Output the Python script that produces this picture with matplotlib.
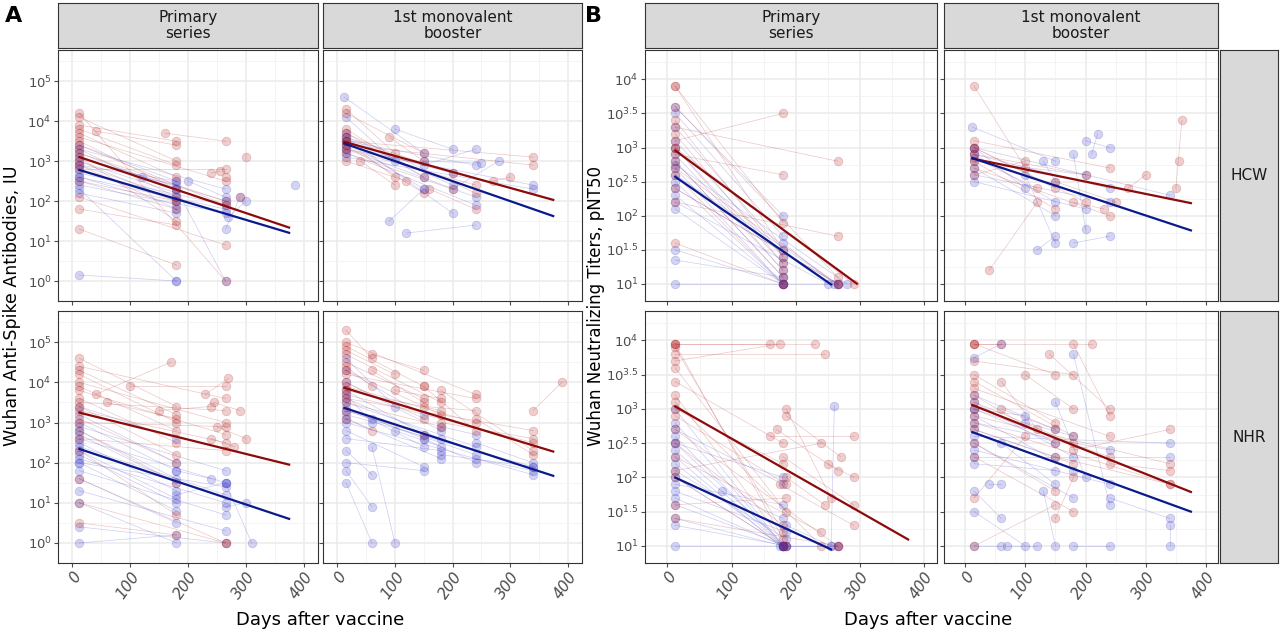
#!/usr/bin/env python3

# Antibody and neutralizing titer decay, faceted by cohort and vaccine dose.
import matplotlib
matplotlib.use('Agg')
import matplotlib.pyplot as plt

RED, BLUE = '#8b0a0a', '#0a1a8b'
PT_RED, PT_BLUE = '#b22222', '#3a3ac8'

COLUMNS = ['Primary\nseries', '1st monovalent\nbooster']
ROWS = ['HCW', 'NHR']

# Each subject is a list of (day, log10 value); red and blue groups per panel
A_HCW_PRI_RED = [
    [(12, 4.1), (180, 3.0)], [(12, 3.8), (180, 2.9)], [(12, 3.7), (180, 2.6)], [(12, 3.5), (180, 2.3)],
    [(12, 3.3), (180, 2.1)], [(12, 3.0), (180, 2.0)], [(12, 2.9), (180, 1.8)], [(12, 3.6), (265, 2.5)],
    [(12, 3.2), (265, 2.0)], [(12, 1.3), (180, 0.4)], [(12, 1.8), (180, 1.4)], [(12, 3.4), (265, 1.9)],
    [(12, 2.5), (180, 2.0)], [(12, 3.9), (180, 3.5)], [(12, 2.8), (265, 2.8)], [(12, 3.1), (180, 1.5)],
    [(12, 2.1), (265, 0.9)], [(40, 3.75), (180, 3.4)], [(160, 3.7), (265, 3.5)], [(300, 3.1)], [(290, 2.1)],
    [(240, 2.7), (255, 2.75)], [(265, 2.6)], [(12, 4.2), (265, 0.0)],
]
A_HCW_PRI_BLUE = [
    [(12, 3.4), (180, 2.5)], [(12, 3.2), (180, 2.3)], [(12, 3.0), (180, 2.2)], [(12, 2.9), (180, 2.1)],
    [(12, 2.8), (180, 2.0)], [(12, 2.6), (180, 1.9)], [(12, 2.5), (180, 1.8)], [(12, 2.6), (265, 1.8)],
    [(12, 3.1), (265, 2.0)], [(12, 2.2), (180, 1.7)], [(12, 2.4), (265, 1.7)], [(12, 3.3), (265, 2.3)],
    [(12, 2.3), (180, 0.0)], [(12, 0.15), (180, 0.0)], [(12, 2.7), (265, 1.9)], [(12, 2.9), (180, 2.5)],
    [(120, 2.6), (180, 2.4)], [(200, 2.5), (265, 2.1)], [(180, 2.3), (265, 0.0)], [(385, 2.4)],
    [(265, 1.3), (290, 2.1)], [(270, 1.6), (300, 2.0)],
]
A_HCW_BOO_RED = [
    [(15, 4.3), (100, 3.2)], [(15, 4.2), (150, 3.2)], [(15, 3.8), (150, 2.6)], [(15, 3.5), (100, 2.6)],
    [(15, 3.6), (200, 2.7)], [(15, 3.3), (240, 2.4)], [(15, 3.4), (150, 2.2)], [(15, 3.2), (200, 2.3)],
    [(15, 3.7), (240, 2.2)], [(15, 3.0), (120, 2.5)], [(15, 3.5), (340, 3.1)], [(15, 3.4), (340, 2.9)],
    [(40, 3.0), (100, 2.4)], [(90, 3.6), (150, 3.0)], [(160, 2.3), (240, 1.8)], [(270, 2.5), (300, 2.6)],
]
A_HCW_BOO_BLUE = [
    [(12, 4.6), (150, 3.2)], [(15, 4.1), (100, 3.0)], [(15, 3.7), (150, 2.6)], [(15, 3.6), (200, 2.4)],
    [(15, 3.5), (150, 2.3)], [(15, 3.3), (240, 2.1)], [(15, 3.4), (200, 2.7)], [(15, 3.2), (240, 1.9)],
    [(15, 3.3), (340, 2.4)], [(15, 3.1), (340, 2.3)], [(15, 3.6), (200, 1.7)], [(15, 3.5), (240, 2.9)],
    [(100, 3.8), (200, 3.3)], [(150, 3.0), (250, 2.95)], [(90, 1.5), (150, 2.3)], [(120, 1.2), (240, 1.4)],
    [(150, 2.9), (240, 3.3)], [(200, 2.3), (280, 3.0)],
]
A_NHR_PRI_RED = [
    [(12, 4.6), (180, 3.4)], [(12, 4.3), (180, 3.2)], [(12, 4.2), (180, 3.0)], [(12, 4.0), (265, 3.0)],
    [(12, 3.9), (180, 2.8)], [(12, 3.8), (265, 2.7)], [(12, 3.6), (180, 2.5)], [(12, 3.5), (265, 3.3)],
    [(12, 3.4), (180, 2.2)], [(12, 3.3), (265, 2.5)], [(12, 3.1), (180, 2.0)], [(12, 3.0), (265, 2.9)],
    [(12, 2.8), (180, 1.5)], [(12, 2.6), (265, 2.3)], [(12, 2.3), (180, 0.7)], [(12, 1.6), (265, 0.0)],
    [(12, 0.5), (180, 0.2)], [(12, 4.4), (265, 3.6)], [(40, 3.7), (170, 4.5)], [(60, 3.5), (180, 3.1)],
    [(100, 3.9), (265, 3.9)], [(150, 3.3), (240, 3.4)], [(245, 3.5), (290, 3.3)], [(250, 2.9), (300, 2.6)],
    [(230, 3.7), (270, 4.1)], [(240, 2.6), (280, 2.4)], [(12, 1.0), (265, 0.0)],
]
A_NHR_PRI_BLUE = [
    [(12, 3.2), (180, 2.0)], [(12, 3.0), (180, 1.8)], [(12, 2.8), (180, 1.6)], [(12, 2.7), (180, 1.5)],
    [(12, 2.6), (265, 1.5)], [(12, 2.5), (180, 1.3)], [(12, 2.4), (265, 1.2)], [(12, 2.3), (180, 1.1)],
    [(12, 2.2), (180, 1.0)], [(12, 2.1), (265, 1.0)], [(12, 2.0), (180, 0.8)], [(12, 1.8), (265, 0.7)],
    [(12, 1.6), (180, 0.5)], [(12, 1.3), (265, 0.3)], [(12, 1.0), (180, 0.0)], [(12, 0.4), (265, 0.0)],
    [(12, 0.0), (180, 0.2)], [(12, 2.9), (265, 1.8)], [(12, 3.4), (180, 2.6)], [(12, 2.0), (265, 1.4)],
    [(180, 1.2), (265, 1.5)], [(265, 0.9), (300, 1.0)], [(265, 1.5), (310, 0.0)], [(180, 1.8), (240, 1.6)],
]
A_NHR_BOO_RED = [
    [(15, 5.3), (60, 4.6)], [(15, 4.9), (150, 3.9)], [(15, 4.7), (180, 3.5)], [(15, 4.5), (150, 3.6)],
    [(15, 4.3), (180, 3.2)], [(15, 4.2), (240, 3.6)], [(15, 4.0), (150, 3.1)], [(15, 3.9), (240, 3.0)],
    [(15, 3.8), (180, 3.3)], [(15, 3.7), (340, 2.5)], [(15, 3.6), (340, 2.8)], [(15, 3.5), (180, 2.9)],
    [(15, 4.4), (60, 3.9)], [(15, 4.8), (100, 4.2)], [(15, 3.3), (150, 2.7)], [(15, 5.0), (240, 3.7)],
    [(60, 4.3), (150, 3.5)], [(100, 3.8), (180, 3.6)], [(150, 3.4), (240, 3.3)], [(180, 3.0), (340, 2.6)],
    [(240, 3.1), (340, 2.2)], [(340, 3.3), (390, 4.0)], [(60, 4.7), (150, 4.3)], [(15, 3.1), (60, 2.8)],
    [(150, 3.9), (240, 2.8)], [(180, 3.8), (340, 2.3)],
]
A_NHR_BOO_BLUE = [
    [(15, 4.3), (150, 3.2)], [(15, 4.0), (180, 2.8)], [(15, 3.8), (150, 2.7)], [(15, 3.6), (180, 2.6)],
    [(15, 3.5), (240, 2.4)], [(15, 3.4), (150, 2.4)], [(15, 3.3), (240, 2.2)], [(15, 3.2), (340, 1.9)],
    [(15, 3.1), (180, 2.1)], [(15, 3.0), (340, 1.7)], [(15, 2.8), (150, 1.9)], [(15, 2.6), (180, 2.3)],
    [(15, 2.3), (60, 1.7)], [(15, 1.8), (60, 0.9)], [(15, 1.5), (60, 0.0)], [(15, 4.6), (100, 3.4)],
    [(15, 3.7), (60, 3.0)], [(60, 3.1), (150, 2.6)], [(100, 2.8), (180, 2.4)], [(150, 2.6), (240, 2.0)],
    [(180, 2.2), (340, 1.9)], [(240, 2.5), (340, 2.0)], [(60, 2.4), (100, 0.0)], [(15, 2.0), (150, 1.8)],
    [(180, 2.9), (240, 2.7)], [(240, 2.1), (340, 1.8)],
]

B_HCW_PRI_RED = [
    [(12, 3.9), (180, 1.9)], [(12, 3.9), (180, 1.5)], [(12, 3.4), (180, 1.4)], [(12, 3.2), (180, 1.3)],
    [(12, 3.0), (180, 1.2)], [(12, 2.8), (180, 1.1)], [(12, 3.6), (265, 1.1)], [(12, 2.6), (180, 1.0)],
    [(12, 2.4), (265, 1.0)], [(12, 1.6), (180, 1.0)], [(12, 2.2), (265, 1.7)], [(12, 3.1), (180, 3.5)],
    [(12, 3.3), (265, 2.8)], [(12, 2.9), (180, 2.6)], [(12, 3.0), (290, 1.0)], [(12, 2.7), (265, 1.0)],
]
B_HCW_PRI_BLUE = [
    [(12, 3.5), (180, 1.7)], [(12, 3.3), (180, 1.5)], [(12, 3.1), (180, 1.4)], [(12, 3.0), (180, 1.3)],
    [(12, 2.9), (180, 1.2)], [(12, 2.8), (180, 1.1)], [(12, 2.7), (180, 1.0)], [(12, 2.6), (265, 1.0)],
    [(12, 2.5), (180, 1.0)], [(12, 2.4), (265, 1.0)], [(12, 2.3), (180, 1.0)], [(12, 2.2), (250, 1.0)],
    [(12, 2.1), (180, 1.0)], [(12, 1.5), (180, 1.0)], [(12, 1.0), (265, 1.0)], [(12, 3.6), (180, 2.0)],
    [(12, 1.35), (180, 1.1)], [(180, 1.6), (260, 1.0)], [(12, 2.75), (280, 1.0)],
]
B_HCW_BOO_RED = [
    [(15, 3.9), (100, 2.7)], [(15, 3.0), (150, 2.4)], [(15, 2.9), (200, 2.6)], [(15, 2.8), (150, 2.1)],
    [(15, 2.7), (240, 2.0)], [(15, 3.0), (200, 2.2)], [(15, 2.85), (120, 2.4)], [(15, 3.1), (240, 2.7)],
    [(15, 2.6), (100, 2.8)], [(40, 1.2), (120, 2.2)], [(150, 2.5), (250, 2.2)], [(270, 2.4), (300, 2.6)],
    [(350, 2.4), (360, 3.4)], [(355, 2.8)], [(180, 2.2), (230, 2.1)],
]
B_HCW_BOO_BLUE = [
    [(12, 3.3), (150, 2.8)], [(15, 3.0), (100, 2.4)], [(15, 2.9), (150, 2.2)], [(15, 2.8), (200, 2.6)],
    [(15, 2.7), (150, 2.0)], [(15, 2.6), (240, 2.2)], [(15, 2.5), (200, 2.1)], [(15, 2.9), (240, 2.4)],
    [(15, 3.0), (340, 2.3)], [(100, 2.6), (150, 1.6)], [(120, 1.5), (150, 1.7)], [(180, 1.6), (240, 1.7)],
    [(200, 3.1), (240, 3.0)], [(210, 2.9), (220, 3.2)], [(130, 2.8), (150, 2.5)], [(180, 2.9), (200, 1.8)],
]
B_NHR_PRI_RED = [
    [(12, 3.95), (180, 1.1)], [(12, 3.95), (160, 3.95)], [(12, 3.9), (180, 1.2)], [(12, 3.7), (175, 3.95)],
    [(12, 3.6), (185, 1.5)], [(12, 3.4), (180, 2.5)], [(12, 3.2), (185, 1.0)], [(12, 3.1), (240, 1.0)],
    [(12, 3.0), (180, 2.2)], [(12, 2.9), (185, 1.9)], [(12, 2.7), (265, 1.0)], [(12, 2.5), (180, 1.3)],
    [(12, 2.3), (240, 1.2)], [(12, 2.0), (180, 1.0)], [(12, 1.6), (185, 1.7)], [(12, 1.4), (265, 1.0)],
    [(12, 3.95), (230, 3.95)], [(12, 3.8), (245, 3.8)], [(160, 2.6), (290, 2.6)], [(185, 2.9), (270, 2.3)],
    [(180, 2.3), (290, 1.6)], [(185, 2.0), (245, 1.6)], [(170, 2.7), (265, 2.1)], [(250, 2.2), (290, 2.0)],
    [(175, 1.9), (290, 1.3)], [(185, 3.0), (255, 1.7)], [(12, 2.1), (240, 2.5)],
]
B_NHR_PRI_BLUE = [
    [(12, 3.0), (180, 1.0)], [(12, 2.8), (180, 1.0)], [(12, 2.6), (180, 1.0)], [(12, 2.5), (185, 1.0)],
    [(12, 2.4), (180, 1.0)], [(12, 2.3), (175, 1.0)], [(12, 2.2), (180, 1.0)], [(12, 2.1), (185, 1.1)],
    [(12, 2.0), (180, 1.0)], [(12, 1.9), (180, 1.6)], [(12, 1.8), (185, 1.2)], [(12, 1.7), (180, 1.0)],
    [(12, 1.4), (180, 1.0)], [(12, 1.3), (185, 1.0)], [(12, 1.0), (265, 1.0)], [(12, 2.7), (180, 1.9)],
    [(12, 1.6), (185, 1.0)], [(85, 1.8), (180, 1.4)], [(180, 1.0), (265, 1.0)], [(185, 1.3), (255, 1.0)],
    [(260, 3.05), (255, 1.0)], [(12, 2.5), (180, 2.0)],
]
B_NHR_BOO_RED = [
    [(15, 3.95), (60, 3.95)], [(15, 3.95), (150, 3.5)], [(15, 3.7), (180, 3.5)], [(15, 3.5), (150, 2.8)],
    [(15, 3.4), (180, 2.6)], [(15, 3.3), (240, 2.6)], [(15, 3.2), (150, 2.5)], [(15, 3.1), (180, 2.5)],
    [(15, 3.0), (240, 2.3)], [(15, 2.9), (340, 2.2)], [(15, 2.8), (340, 1.9)], [(15, 2.7), (180, 2.2)],
    [(15, 2.5), (150, 1.8)], [(15, 2.3), (180, 1.5)], [(15, 1.0), (150, 1.6)], [(15, 3.95), (210, 3.95)],
    [(60, 3.0), (150, 2.7)], [(100, 3.5), (180, 3.0)], [(140, 3.8), (240, 3.0)], [(150, 2.3), (340, 1.9)],
    [(180, 2.4), (340, 2.7)], [(240, 2.2), (340, 2.1)], [(15, 1.7), (100, 2.6)], [(180, 3.95), (240, 2.9)],
    [(60, 3.4), (120, 2.7)], [(150, 1.4), (180, 2.0)],
]
B_NHR_BOO_BLUE = [
    [(15, 3.75), (60, 3.95)], [(15, 3.2), (150, 2.7)], [(15, 3.1), (180, 2.3)], [(15, 3.0), (150, 2.5)],
    [(15, 2.9), (180, 2.1)], [(15, 2.8), (240, 2.4)], [(15, 2.7), (150, 2.3)], [(15, 2.6), (340, 2.5)],
    [(15, 2.5), (180, 1.7)], [(15, 2.4), (240, 1.9)], [(15, 2.3), (340, 2.3)], [(15, 2.2), (150, 2.1)],
    [(15, 1.8), (60, 1.4)], [(15, 1.5), (100, 1.0)], [(15, 1.0), (60, 1.0)], [(15, 3.0), (100, 2.9)],
    [(40, 1.9), (60, 1.9)], [(60, 2.5), (150, 1.9)], [(100, 2.8), (180, 2.6)], [(130, 1.8), (150, 1.0)],
    [(180, 3.8), (240, 1.6)], [(240, 1.7), (340, 1.4)], [(180, 1.0), (240, 1.0)], [(340, 1.0), (340, 1.3)],
    [(70, 1.0), (120, 1.0)], [(150, 3.1), (200, 2.0)],
]

# Regression fits as (intercept at day 0, slope per day, last day) in log10 units
FITS = {
    ('A', 0, 0): [(3.16, -0.00486, 375, RED), (2.83, -0.00433, 375, BLUE)],
    ('A', 0, 1): [(3.53, -0.00400, 375, RED), (3.50, -0.00500, 375, BLUE)],
    ('A', 1, 0): [(3.29, -0.00357, 375, RED), (2.40, -0.00480, 375, BLUE)],
    ('A', 1, 1): [(3.92, -0.00438, 375, RED), (3.42, -0.00466, 375, BLUE)],
    ('B', 0, 0): [(3.04, -0.00690, 295, RED), (2.65, -0.00650, 255, BLUE)],
    ('B', 0, 1): [(2.86, -0.00180, 375, RED), (2.88, -0.00292, 375, BLUE)],
    ('B', 1, 0): [(3.10, -0.00535, 375, RED), (2.05, -0.00432, 255, BLUE)],
    ('B', 1, 1): [(3.10, -0.00350, 375, RED), (2.70, -0.00320, 375, BLUE)],
}

DATA = {
    ('A', 0, 0): (A_HCW_PRI_RED, A_HCW_PRI_BLUE), ('A', 0, 1): (A_HCW_BOO_RED, A_HCW_BOO_BLUE),
    ('A', 1, 0): (A_NHR_PRI_RED, A_NHR_PRI_BLUE), ('A', 1, 1): (A_NHR_BOO_RED, A_NHR_BOO_BLUE),
    ('B', 0, 0): (B_HCW_PRI_RED, B_HCW_PRI_BLUE), ('B', 0, 1): (B_HCW_BOO_RED, B_HCW_BOO_BLUE),
    ('B', 1, 0): (B_NHR_PRI_RED, B_NHR_PRI_BLUE), ('B', 1, 1): (B_NHR_BOO_RED, B_NHR_BOO_BLUE),
}

W, H = 1280, 633
TICK = '#4d4d4d'


def box(x0, y0, x1, y1):
    return [x0 / W, 1 - y1 / H, (x1 - x0) / W, (y1 - y0) / H]


def strip(fig, rect, text, rotation=0):
    ax = fig.add_axes(box(*rect))
    ax.set_facecolor('#d9d9d9')
    ax.set_xticks([]); ax.set_yticks([])
    for s in ax.spines.values():
        s.set_color('#333333'); s.set_linewidth(0.8)
    ax.text(0.5, 0.5, text, ha='center', va='center', fontsize=11, color='#1a1a1a',
            rotation=rotation, linespacing=1.1, transform=ax.transAxes)


def panel(ax, key, block, row, col):
    reds, blues = DATA[key]
    for subjects, color in [(blues, PT_BLUE), (reds, PT_RED)]:
        for s in subjects:
            xs = [p[0] for p in s]; ys = [p[1] for p in s]
            ax.plot(xs, ys, color=color, lw=0.5, alpha=0.25, zorder=2)
            ax.scatter(xs, ys, s=38, color=color, alpha=0.22, edgecolors=color, linewidths=0.6, zorder=3)
    for b, m, xend, color in FITS[key]:
        x0 = 12
        ax.plot([x0, xend], [b + m * x0, b + m * xend], color=color, lw=1.6, zorder=4)

    if block == 'A':
        ax.set_xlim(-25, 425)
        ax.set_ylim(-0.26, 5.78)
        major = list(range(0, 6))
        minor = [v + 0.5 for v in range(-1, 6)]
        labels = [r'$10^{%d}$' % v for v in major]
    else:
        ax.set_xlim(-35, 420)
        ax.set_ylim(0.86, 4.43)
        major = [1, 1.5, 2, 2.5, 3, 3.5, 4]
        minor = [v + 0.25 for v in [0.5, 1, 1.5, 2, 2.5, 3, 3.5, 4]]
        labels = [r'$10^{%g}$' % v for v in major]
    ax.set_yticks(major)
    ax.set_yticks(minor, minor=True)
    ax.set_xticks([0, 100, 200, 300, 400])
    ax.set_xticks([50, 150, 250, 350], minor=True)
    ax.grid(which='major', color='#ebebeb', lw=1.1, zorder=0)
    ax.grid(which='minor', color='#f2f2f2', lw=0.6, zorder=0)
    ax.set_axisbelow(True)
    ax.tick_params(which='minor', length=0)
    ax.tick_params(which='major', color=TICK, labelcolor=TICK, labelsize=9.5, length=3, pad=1.5)
    for s in ax.spines.values():
        s.set_color('#333333'); s.set_linewidth(0.8)
    if col == 0:
        ax.set_yticklabels(labels)
    else:
        ax.set_yticklabels([])
    if row == 1:
        ax.set_xticklabels(['0', '100', '200', '300', '400'], rotation=55, ha='right',
                           rotation_mode='anchor', fontstyle='italic', fontsize=11)
    else:
        ax.set_xticklabels([])


def main():
    fig = plt.figure(figsize=(W / 100, H / 100), dpi=100)
    rows = [(50, 301), (311, 563)]
    cols = {'A': [(58, 318), (323, 582)], 'B': [(645, 937), (944, 1218)]}
    for block in ['A', 'B']:
        for c, (x0, x1) in enumerate(cols[block]):
            strip(fig, (x0, 3, x1, 48), COLUMNS[c])
            for r, (y0, y1) in enumerate(rows):
                ax = fig.add_axes(box(x0, y0, x1, y1))
                panel(ax, (block, r, c), block, r, c)
    for r, (y0, y1) in enumerate(rows):
        strip(fig, (1220, y0, 1278, y1), ROWS[r])

    fig.text(5 / W, 1 - 16 / H, 'A', fontsize=16, fontweight='bold', va='center')
    fig.text(585 / W, 1 - 16 / H, 'B', fontsize=16, fontweight='bold', va='center')
    fig.text(320 / W, 1 - 620 / H, 'Days after vaccine', ha='center', va='center', fontsize=13)
    fig.text(928 / W, 1 - 620 / H, 'Days after vaccine', ha='center', va='center', fontsize=13)
    fig.text(12 / W, 1 - 306 / H, 'Wuhan Anti-Spike Antibodies, IU', rotation=90,
             ha='center', va='center', fontsize=12.5)
    fig.text(596 / W, 1 - 306 / H, 'Wuhan Neutralizing Titers, pNT50', rotation=90,
             ha='center', va='center', fontsize=12)
    fig.savefig('out.png', dpi=100)


if __name__ == '__main__':
    main()
